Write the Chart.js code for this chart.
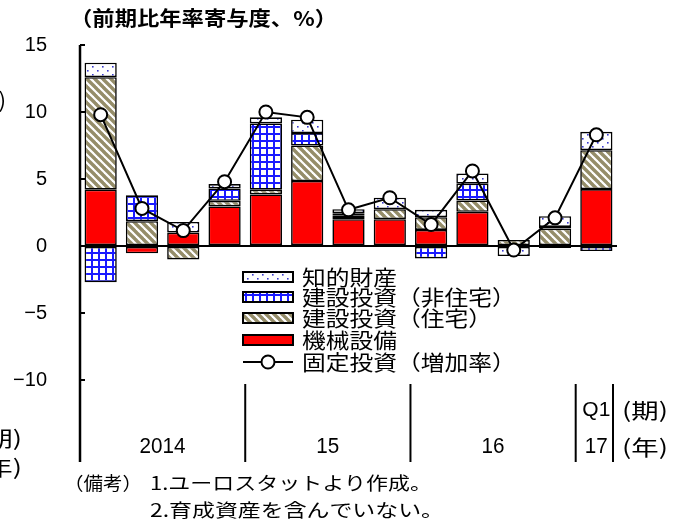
<!DOCTYPE html>
<html>
<head>
<meta charset="utf-8">
<script src="https://cdn.jsdelivr.net/npm/chart.js@4.4.0/dist/chart.umd.min.js"></script>
<style>
  html, body { margin: 0; padding: 0; background: #fff; }
  #wrap { width: 680px; height: 521px; }
</style>
</head>
<body>
<div id="wrap"><canvas id="c" width="680" height="521"></canvas></div>
<script>
// Quarterly contributions to fixed investment growth (annualised q/q, %)
const quarters = ['2014Q1', '2014Q2', '2014Q3', '2014Q4',
                  '2015Q1', '2015Q2', '2015Q3', '2015Q4',
                  '2016Q1', '2016Q2', '2016Q3', '2016Q4',
                  '2017Q1'];
const machinery            = [4.2, -0.55, 1.0, 2.95, 3.85, 4.85, 2.0, 2.0, 1.2, 2.55, null, -0.15, 4.25];
const housing              = [8.4, 1.85, -1.0, 0.42, 0.35, 2.65, 0.25, 0.75, 0.95, 0.85, 0.45, 1.3, 2.9];
const nonResidential       = [-2.7, 1.9, null, 0.93, 4.95, 0.93, 0.2, null, -0.93, 1.25, null, 0.12, -0.38];
const intellectualProperty = [1.08, 0.05, 0.8, 0.32, 0.45, 1.0, 0.3, 0.85, 0.55, 0.76, -0.75, 0.8, 1.37];
const fixedInvestmentGrowth = [9.8, 2.8, 1.15, 4.8, 10.0, 9.6, 2.7, 3.6, 1.6, 5.6, -0.3, 2.1, 8.3];

const yTickValues = [-10, -5, 0, 5, 10, 15];
const yearGroups = [
  { text: '2014', from: 0, to: 3 },
  { text: '15',   from: 4, to: 7 },
  { text: '16',   from: 8, to: 11 }
];
const lastYear = { quarter: 'Q1', year: '17', index: 12 };
const dividerIndices = [4, 8, 12]; // boundaries before these categories

const seriesNames = {
  ip: '知的財産',
  nonRes: '建設投資（非住宅）',
  housing: '建設投資（住宅）',
  machinery: '機械設備',
  total: '固定投資（増加率）'
};

const JP = '"Noto Sans CJK JP", "Noto Sans", sans-serif';
const NUM = '"Liberation Sans", Arial, sans-serif';

// ---- fill patterns ----
function makeTile(w, h, draw) {
  const c = document.createElement('canvas');
  c.width = w; c.height = h;
  const g = c.getContext('2d');
  g.fillStyle = '#ffffff';
  g.fillRect(0, 0, w, h);
  draw(g);
  return c;
}
const tileDots = makeTile(10, 8, g => {
  g.fillStyle = '#3a3ad0';
  g.fillRect(2, 2, 1.6, 1.6);
  g.fillRect(7, 6, 1.6, 1.6);
});
const tileGrid = makeTile(7, 7, g => {
  g.fillStyle = '#1a1aff';
  g.fillRect(0, 0, 7, 2);
  g.fillRect(0, 0, 2, 7);
});
const tileHatch = makeTile(8, 8, g => {
  g.strokeStyle = '#958d69';
  g.lineWidth = 3.4;
  for (const k of [-8, 0, 8]) {
    g.beginPath();
    g.moveTo(k - 1, -1);
    g.lineTo(k + 9, 9);
    g.stroke();
  }
});
const ctx0 = document.getElementById('c').getContext('2d');
const fillDots = ctx0.createPattern(tileDots, 'repeat');
const fillGrid = ctx0.createPattern(tileGrid, 'repeat');
const fillHatch = ctx0.createPattern(tileHatch, 'repeat');
const fillRed = '#ff0000';

// ---- text helper: draws text squeezed/stretched to a given width ----
function drawFitted(ctx, str, x, y, font, width, align) {
  ctx.save();
  ctx.font = font;
  ctx.textBaseline = 'middle';
  ctx.textAlign = 'left';
  const w0 = ctx.measureText(str).width;
  const sx = width ? width / w0 : 1;
  const w = w0 * sx;
  let x0 = x;
  if (align === 'center') x0 = x - w / 2;
  else if (align === 'right') x0 = x - w;
  ctx.translate(x0, y);
  ctx.scale(sx, 1);
  ctx.fillStyle = '#000';
  ctx.fillText(str, 0, 0);
  ctx.restore();
}

// ---- decorations: axis line, inner ticks, period dividers, labels, legend, notes ----
const decor = {
  id: 'decor',
  afterDraw(chart) {
    const { ctx, chartArea: ca, scales: { x, y } } = chart;
    const bottomExt = ca.bottom + 82;
    ctx.save();
    ctx.strokeStyle = '#000';
    ctx.lineCap = 'butt';

    // left axis, running down through the period label band
    ctx.lineWidth = 2.5;
    ctx.beginPath();
    ctx.moveTo(ca.left, ca.top);
    ctx.lineTo(ca.left, bottomExt);
    ctx.stroke();

    // inner tick marks
    ctx.lineWidth = 2;
    yTickValues.forEach(v => {
      const py = Math.round(y.getPixelForValue(v));
      ctx.beginPath();
      ctx.moveTo(ca.left, py);
      ctx.lineTo(ca.left + 5, py);
      ctx.stroke();
    });

    // period dividers
    const boundary = i => (x.getPixelForValue(i - 1) + x.getPixelForValue(i)) / 2;
    const divXs = dividerIndices.map(boundary).concat([ca.right - 4]);
    ctx.lineWidth = 2;
    divXs.forEach(px => {
      ctx.beginPath();
      ctx.moveTo(px, ca.bottom + 4);
      ctx.lineTo(px, bottomExt);
      ctx.stroke();
    });

    // year labels
    const yearY = ca.bottom + 67;
    const quarterY = ca.bottom + 30;
    const numFont = '22px ' + NUM;
    yearGroups.forEach(gp => {
      const cx = (x.getPixelForValue(gp.from) + x.getPixelForValue(gp.to)) / 2;
      drawFitted(ctx, gp.text, cx, yearY, numFont, gp.text.length * 11.5, 'center');
    });
    const lx = x.getPixelForValue(lastYear.index);
    drawFitted(ctx, lastYear.quarter, lx, quarterY, '21px ' + NUM, 0, 'center');
    drawFitted(ctx, lastYear.year, lx, yearY, numFont, 23, 'center');
    drawFitted(ctx, '(期)', 622, quarterY, '21px ' + JP, 46, 'left');
    drawFitted(ctx, '(年)', 622, yearY, '21px ' + JP, 46, 'left');

    // labels running off the left edge
    drawFitted(ctx, '(期)', -24, ca.bottom + 58, '21px ' + JP, 46, 'left');
    drawFitted(ctx, '(年)', -24, ca.bottom + 87, '21px ' + JP, 46, 'left');
    drawFitted(ctx, '(%)', -30, 100, '21px ' + JP, 36, 'left');

    // unit title
    drawFitted(ctx, '（前期比年率寄与度、%）', 70, 18, 'bold 20px ' + JP, 267, 'left');

    // legend
    const lgX = 243, lgW = 50, lgH = 10, txX = 302;
    const legendFont = '21px ' + JP;
    const rows = [
      { fill: fillDots,  name: seriesNames.ip,        cy: 277 },
      { fill: fillGrid,  name: seriesNames.nonRes,    cy: 297 },
      { fill: fillHatch, name: seriesNames.housing,   cy: 318 },
      { fill: fillRed,   name: seriesNames.machinery, cy: 340 }
    ];
    ctx.font = legendFont;
    const legendScale = 95 / ctx.measureText('知的財産').width;
    rows.forEach(r => {
      ctx.fillStyle = r.fill;
      ctx.fillRect(lgX, r.cy - lgH / 2, lgW, lgH);
      ctx.lineWidth = 2;
      ctx.strokeStyle = '#000';
      ctx.strokeRect(lgX, r.cy - lgH / 2, lgW, lgH);
      ctx.font = legendFont;
      const w = ctx.measureText(r.name).width * legendScale;
      drawFitted(ctx, r.name, txX, r.cy, legendFont, w, 'left');
    });
    const lineY = 362;
    ctx.lineWidth = 2;
    ctx.beginPath();
    ctx.moveTo(lgX, lineY);
    ctx.lineTo(lgX + lgW, lineY);
    ctx.stroke();
    ctx.beginPath();
    ctx.arc(lgX + lgW / 2, lineY, 6.5, 0, Math.PI * 2);
    ctx.fillStyle = '#fff';
    ctx.fill();
    ctx.stroke();
    ctx.font = legendFont;
    const wt = ctx.measureText(seriesNames.total).width * legendScale;
    drawFitted(ctx, seriesNames.total, txX, lineY, legendFont, wt, 'left');

    // notes
    const noteFont = '18px ' + JP;
    drawFitted(ctx, '（備考）', 64, 483, noteFont, 78, 'left');
    drawFitted(ctx, '1.ユーロスタットより作成。', 150, 483, noteFont, 282, 'left');
    drawFitted(ctx, '2.育成資産を含んでいない。', 150, 510, noteFont, 294, 'left');

    ctx.restore();
  }
};

const barCommon = {
  type: 'bar',
  borderColor: '#000',
  borderWidth: 1.6,
  borderSkipped: false,
  barPercentage: 0.78,
  categoryPercentage: 1.0,
  stack: 'contrib',
  order: 1
};

new Chart(document.getElementById('c'), {
  data: {
    labels: quarters,
    datasets: [
      {
        type: 'line',
        label: seriesNames.total,
        data: fixedInvestmentGrowth,
        borderColor: '#000',
        borderWidth: 2,
        pointRadius: 6.5,
        pointBackgroundColor: '#fff',
        pointBorderColor: '#000',
        pointBorderWidth: 2,
        tension: 0,
        stack: 'growth',
        order: 0
      },
      Object.assign({ label: seriesNames.machinery, data: machinery, backgroundColor: fillRed }, barCommon),
      Object.assign({ label: seriesNames.housing, data: housing, backgroundColor: fillHatch }, barCommon),
      Object.assign({ label: seriesNames.nonRes, data: nonResidential, backgroundColor: fillGrid }, barCommon),
      Object.assign({ label: seriesNames.ip, data: intellectualProperty, backgroundColor: fillDots }, barCommon)
    ]
  },
  options: {
    responsive: false,
    animation: false,
    layout: { padding: { left: 0, right: 63, top: 45, bottom: 141 } },
    plugins: { legend: { display: false }, tooltip: { enabled: false } },
    scales: {
      x: {
        type: 'category',
        stacked: true,
        display: false,
        offset: true
      },
      y: {
        stacked: true,
        min: -10,
        max: 15,
        afterFit: s => { s.width = 80; },
        border: { display: false },
        grid: {
          drawTicks: false,
          lineWidth: ctx => (ctx.tick && ctx.tick.value === 0 ? 2 : 0),
          color: ctx => (ctx.tick && ctx.tick.value === 0 ? '#000' : 'rgba(0,0,0,0)')
        },
        ticks: {
          stepSize: 5,
          padding: 33,
          color: '#000',
          font: { family: NUM, size: 20 },
          callback: v => (v < 0 ? '\u2212' + Math.abs(v) : String(v))
        }
      }
    }
  },
  plugins: [decor]
});
</script>
</body>
</html>
